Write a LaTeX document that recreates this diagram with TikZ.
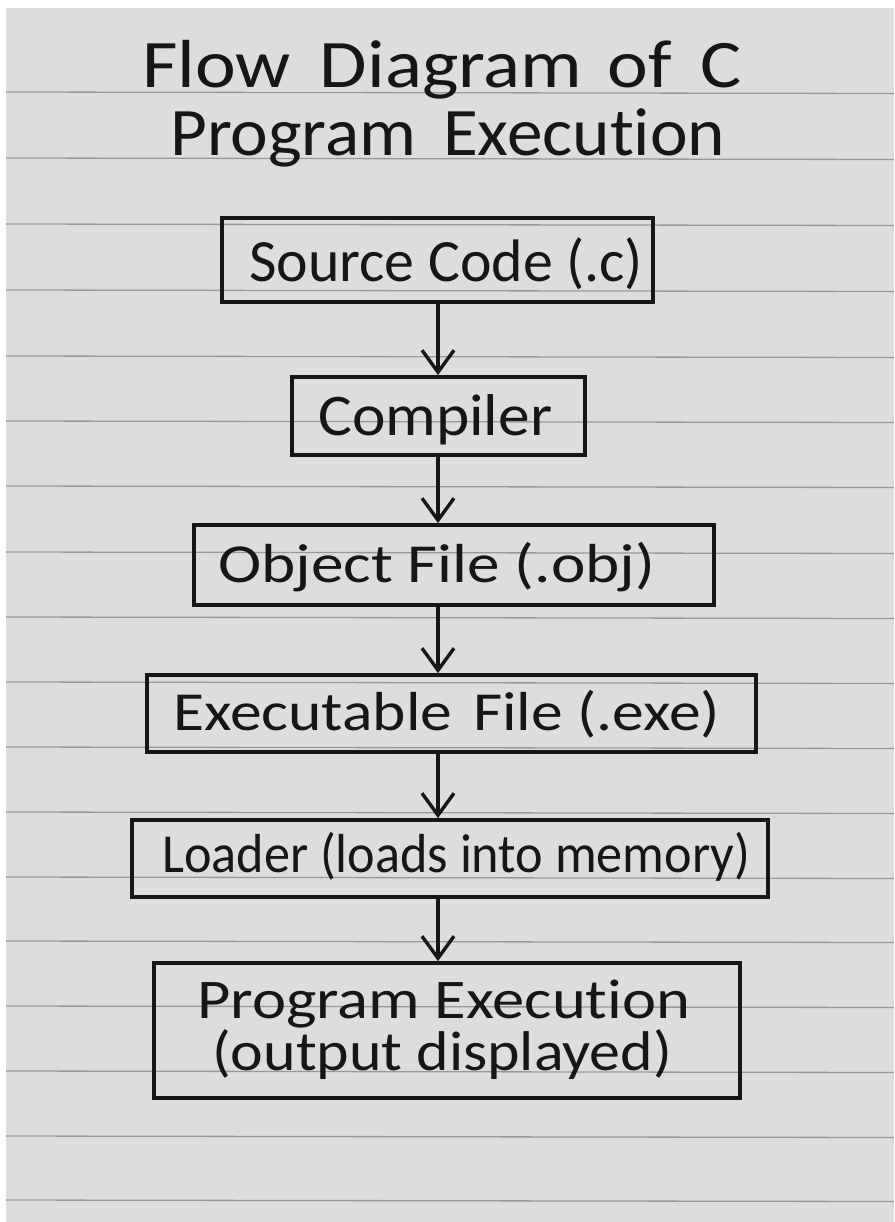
\documentclass[tikz,border=0pt]{standalone}
\usepackage{fontspec}
\setmainfont{Carlito}[Ligatures={NoCommon,NoRare}]
\usetikzlibrary{arrows.meta}
\definecolor{paper}{RGB}{221,221,221}
\definecolor{rulecol}{RGB}{152,152,152}
\definecolor{ink}{RGB}{22,22,22}
\newcommand{\fitw}[2]{\resizebox{#1}{\height}{#2}}
\begin{document}
\begin{tikzpicture}[x=1pt,y=-1pt,
  stepbox/.style={rectangle,draw=ink,line width=3.8pt,inner sep=0pt},
  txt/.style={inner sep=0pt,anchor=base west,text=ink},
  arr/.style={draw=ink,line width=3.4pt,-{Straight Barb[length=22pt,width=32pt]}},
  ruling/.style={draw=rulecol,line width=1.3pt}]
\useasboundingbox (0,0) rectangle (894,1222);
\fill[white] (0,0) rectangle (894,1222);
\fill[paper] (6,8) rectangle (894,1222);
\foreach \yy in {92,158,224,290,356,421,486,552,617,682,747,812,877,941,1006,1071,1136,1200}
  \draw[ruling] (6,\yy) -- (894,\yy+1.5);
% title
\node[txt,font=\fontsize{68}{68}\selectfont] (title1) at (142,88) {\fitw{600pt}{Flow\hspace{0.15em} Diagram\hspace{0.1em} of\hspace{0.15em} C}};
\node[txt,font=\fontsize{68}{68}\selectfont] (title2) at (170,156) {\fitw{555pt}{Program\hspace{0.15em} Execution}};
% boxes
\node[stepbox,minimum width=431pt,minimum height=84pt] (b1) at (437.5,260) {};
\node[stepbox,minimum width=293pt,minimum height=78pt] (b2) at (438.5,416) {};
\node[stepbox,minimum width=520pt,minimum height=80pt] (b3) at (454,565) {};
\node[stepbox,minimum width=609pt,minimum height=77pt] (b4) at (451.5,713.5) {};
\node[stepbox,minimum width=636pt,minimum height=77pt] (b5) at (450,858.5) {};
\node[stepbox,minimum width=586pt,minimum height=135pt] (b6) at (447,1030.5) {};
% texts
\node[txt,font=\fontsize{60}{60}\selectfont] (t1) at (249,282) {\fitw{394pt}{Source Code (.c)}};
\node[txt,font=\fontsize{59}{59}\selectfont] (t2) at (318,435) {\fitw{234pt}{Compiler}};
\node[txt,font=\fontsize{55}{55}\selectfont] (t3) at (218,582) {\fitw{437pt}{Object File (.obj)}};
\node[txt,font=\fontsize{55}{55}\selectfont] (t4) at (173,730) {\fitw{547pt}{Executable\hspace{0.1em} File (.exe)}};
\node[txt,font=\fontsize{55}{55}\selectfont] (t5) at (162,872) {\fitw{588pt}{Loader (loads into memory)}};
\node[txt,font=\fontsize{56}{56}\selectfont] (t6a) at (197,1018) {\fitw{493pt}{Program Execution}};
\node[txt,font=\fontsize{56}{56}\selectfont] (t6b) at (212,1070) {\fitw{460pt}{(output displayed)}};
% arrows
\coordinate (ax) at (438,0);
\draw[arr] (b1.south -| ax) -- (b2.north -| ax);
\draw[arr] (b2.south -| ax) -- (b3.north -| ax);
\draw[arr] (b3.south -| ax) -- (b4.north -| ax);
\draw[arr] (b4.south -| ax) -- (b5.north -| ax);
\draw[arr] (b5.south -| ax) -- (b6.north -| ax);
\end{tikzpicture}
\end{document}
